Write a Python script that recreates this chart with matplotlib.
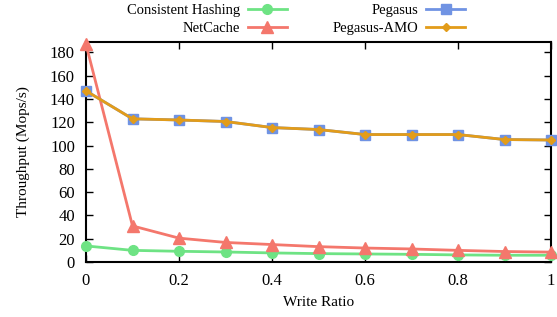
import matplotlib
matplotlib.use("Agg")
import matplotlib.pyplot as plt

# Dati
write_ratio = [0, 0.1, 0.2, 0.3, 0.4, 0.5, 0.6, 0.7, 0.8, 0.9, 1.0]
consistent_hashing = [13.8, 10.0, 9.2, 8.6, 7.8, 7.2, 6.9, 6.6, 6.1, 5.8, 5.8]
netcache = [187, 31, 20.5, 16.8, 15.0, 13.2, 12.0, 11.2, 10.0, 9.0, 8.5]
pegasus = [147, 123, 122, 120.7, 115.5, 113.8, 109.5, 109.5, 109.5, 105.2, 104.8]
pegasus_amo = [147, 123, 122, 120.7, 115.5, 113.8, 109.5, 109.5, 109.5, 105.2, 104.8]

x_ticks = [0, 0.2, 0.4, 0.6, 0.8, 1.0]
x_tick_labels = ["0", "0.2", "0.4", "0.6", "0.8", "1"]
y_ticks = list(range(0, 181, 20))

plt.rcParams['font.family'] = ['Liberation Serif', 'DejaVu Serif']
plt.rcParams['font.size'] = 11

fig = plt.figure(figsize=(5.57, 3.17), dpi=100)
ax = fig.add_axes([86 / 557, 1 - 262 / 317, (551 - 86) / 557, (262 - 42) / 317])

ax.plot(write_ratio, consistent_hashing, color='#6ee384', marker='o', markersize=7,
        linewidth=2, label='Consistent Hashing', clip_on=False, zorder=3)
ax.plot(write_ratio, netcache, color='#f4776c', marker='^', markersize=9,
        linewidth=2, label='NetCache', clip_on=False, zorder=3)
ax.plot(write_ratio, pegasus, color='#7093e3', marker='s', markersize=7,
        linewidth=2, label='Pegasus', clip_on=False, zorder=4)
ax.plot(write_ratio, pegasus_amo, color='#e29c1a', marker='D', markersize=4.5,
        linewidth=2, label='Pegasus-AMO', clip_on=False, zorder=5)

ax.set_xlim(0, 1)
ax.set_ylim(0, 189)
ax.set_xticks(x_ticks)
ax.set_xticklabels(x_tick_labels)
ax.set_yticks(y_ticks)
ax.tick_params(direction='in', top=True, right=True, length=5, width=1.0, labelsize=12)
ax.tick_params(axis='x', pad=8)
ax.tick_params(axis='y', pad=8)
for s in ax.spines.values():
    s.set_linewidth(1.5)

ax.set_xlabel("Write Ratio", labelpad=5)
ax.set_ylabel("Throughput (Mops/s)", labelpad=14)

fig.legend(loc='upper right', bbox_to_anchor=(474 / 557, 1.0 + 5 / 317), ncol=2,
           frameon=False, markerfirst=False, fontsize=10.5, handlelength=2.7,
           columnspacing=3.15, labelspacing=0.35, borderpad=0.1, handletextpad=0.5)

fig.savefig("out.png", dpi=100)
